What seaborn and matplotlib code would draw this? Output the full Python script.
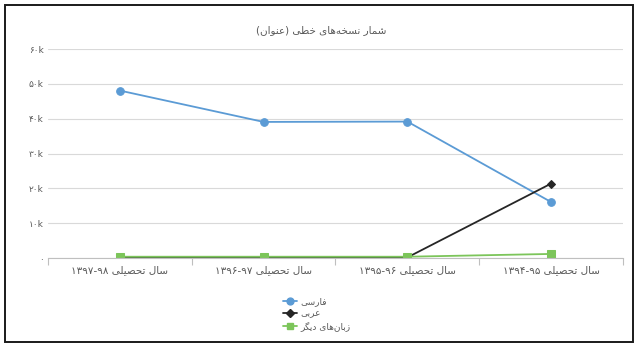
import re
import matplotlib
matplotlib.use("Agg")
import matplotlib.pyplot as plt
import seaborn as sns
import pandas as pd
from matplotlib.patches import Rectangle
from matplotlib.lines import Line2D

# ---------------- data ----------------
title_text = "شمار نسخه‌های خطی (عنوان)"
categories = ["سال تحصیلی ۱۳۹۷-۹۸", "سال تحصیلی ۱۳۹۶-۹۷",
              "سال تحصیلی ۱۳۹۵-۹۶", "سال تحصیلی ۱۳۹۴-۹۵"]
series_names = ["فارسی", "عربی", "زبان‌های دیگر"]
persian_vals = [48100, 39100, 39200, 16100]
arabic_vals = [300, 250, 200, 21400]
other_vals = [400, 400, 400, 1200]
y_ticks = [0, 10000, 20000, 30000, 40000, 50000, 60000]
y_tick_labels = ["۰", "۱۰k", "۲۰k", "۳۰k", "۴۰k", "۵۰k", "۶۰k"]

# ------------- simple Arabic shaping + bidi -------------
FORMS = {
    '\u0627': ('\uFE8D', '\uFE8E', None, None),
    '\u0628': ('\uFE8F', '\uFE90', '\uFE91', '\uFE92'),
    '\u062A': ('\uFE95', '\uFE96', '\uFE97', '\uFE98'),
    '\u062D': ('\uFEA1', '\uFEA2', '\uFEA3', '\uFEA4'),
    '\u062E': ('\uFEA5', '\uFEA6', '\uFEA7', '\uFEA8'),
    '\u062F': ('\uFEA9', '\uFEAA', None, None),
    '\u0631': ('\uFEAD', '\uFEAE', None, None),
    '\u0632': ('\uFEAF', '\uFEB0', None, None),
    '\u0633': ('\uFEB1', '\uFEB2', '\uFEB3', '\uFEB4'),
    '\u0634': ('\uFEB5', '\uFEB6', '\uFEB7', '\uFEB8'),
    '\u0635': ('\uFEB9', '\uFEBA', '\uFEBB', '\uFEBC'),
    '\u0637': ('\uFEC1', '\uFEC2', '\uFEC3', '\uFEC4'),
    '\u0639': ('\uFEC9', '\uFECA', '\uFECB', '\uFECC'),
    '\u0641': ('\uFED1', '\uFED2', '\uFED3', '\uFED4'),
    '\u0644': ('\uFEDD', '\uFEDE', '\uFEDF', '\uFEE0'),
    '\u0645': ('\uFEE1', '\uFEE2', '\uFEE3', '\uFEE4'),
    '\u0646': ('\uFEE5', '\uFEE6', '\uFEE7', '\uFEE8'),
    '\u0647': ('\uFEE9', '\uFEEA', '\uFEEB', '\uFEEC'),
    '\u0648': ('\uFEED', '\uFEEE', None, None),
    '\u06CC': ('\uFBFC', '\uFBFD', '\uFBFE', '\uFBFF'),
    '\u06AF': ('\uFB92', '\uFB93', '\uFB94', '\uFB95'),
}


def shape(s):
    out = []
    n = len(s)
    for i, c in enumerate(s):
        if c not in FORMS:
            out.append(c)
            continue
        prev = s[i - 1] if i > 0 else ''
        nxt = s[i + 1] if i < n - 1 else ''
        jp = prev in FORMS and FORMS[prev][2] is not None
        jn = FORMS[c][2] is not None and nxt in FORMS
        iso, fin, ini, med = FORMS[c]
        out.append(med if (jp and jn) else fin if jp else ini if jn else iso)
    return ''.join(ch for ch in out if ch != '\u200c')


MIRROR = {'(': ')', ')': '('}


def rtl(s):
    sh = shape(s)
    runs = re.findall(r'[0-9۰-۹][0-9۰-۹\-]*[0-9۰-۹]|[0-9۰-۹]|[^0-9۰-۹]+', sh)
    vis = []
    for r in reversed(runs):
        if re.match(r'[0-9۰-۹]', r):
            vis.append(r)
        else:
            vis.append(''.join(MIRROR.get(ch, ch) for ch in reversed(r)))
    return ''.join(vis)


# ---------------- plot ----------------
sns.set_theme(style="white")
plt.rcParams['font.family'] = ['DejaVu Sans']

rows = []
for name, vals in zip(series_names, [persian_vals, arabic_vals, other_vals]):
    for cat, v in zip(categories, vals):
        rows.append({"cat": rtl(cat), "series": name, "value": v})
df = pd.DataFrame(rows)

colors = ["#5B9BD5", "#262626", "#7CC55A"]
markers = ["o", "D", "s"]
msizes = [5.5, 4.2, 5.5]

fig = plt.figure(figsize=(6.38, 3.46), dpi=100)
ax = fig.add_axes([0.0752, 0.254, 0.9013, 0.604])

for name, col, mk, ms in zip(series_names, colors, markers, msizes):
    sub = df[df.series == name]
    sns.lineplot(data=sub, x="cat", y="value", ax=ax, color=col, marker=mk,
                 markersize=ms, markeredgecolor=col, linewidth=1.3,
                 sort=False, legend=False)

ax.set_ylim(0, 60000)
ax.set_xlim(-0.5, 3.5)
ax.set_yticks(y_ticks)
ax.set_yticklabels(y_tick_labels)
ax.set_xlabel("")
ax.set_ylabel("")
ax.yaxis.grid(True, color="#D9D9D9", linewidth=0.8)
ax.xaxis.grid(False)
for s in ["top", "right", "left"]:
    ax.spines[s].set_visible(False)
ax.spines["bottom"].set_color("#BFBFBF")
ax.spines["bottom"].set_linewidth(0.8)
ax.set_xticks([-0.5, 0.5, 1.5, 2.5, 3.5], minor=True)
ax.tick_params(axis="x", which="minor", length=5, color="#BFBFBF", width=0.8,
               bottom=True)
ax.tick_params(axis="x", which="major", length=0, labelsize=7.5,
               labelcolor="#595959", pad=5)
ax.tick_params(axis="y", length=0, labelsize=6.5, labelcolor="#595959", pad=3)
ax.set_zorder(2)

fig.text(0.504, 0.913, rtl(title_text), ha="center", va="center",
         fontsize=7.5, color="#595959")

# legend
handles = [Line2D([0], [0], color=c, marker=m, markersize=ms * 0.9,
                  markeredgecolor=c, linewidth=1.3)
           for c, m, ms in zip(colors, markers, msizes)]
leg = fig.legend(handles, [rtl(n) for n in series_names],
                 loc="center", bbox_to_anchor=(0.497, 0.092), frameon=False,
                 fontsize=6.5, labelcolor="#595959", handlelength=1.5,
                 handletextpad=0.4, labelspacing=0.35, borderpad=0.2)

# outer border
fig.patches.append(Rectangle((5 / 638, 4 / 346), 628 / 638, 337 / 346,
                             transform=fig.transFigure, fill=False,
                             edgecolor="#1a1a1a", linewidth=1.4))

fig.savefig("out.png", dpi=100)
